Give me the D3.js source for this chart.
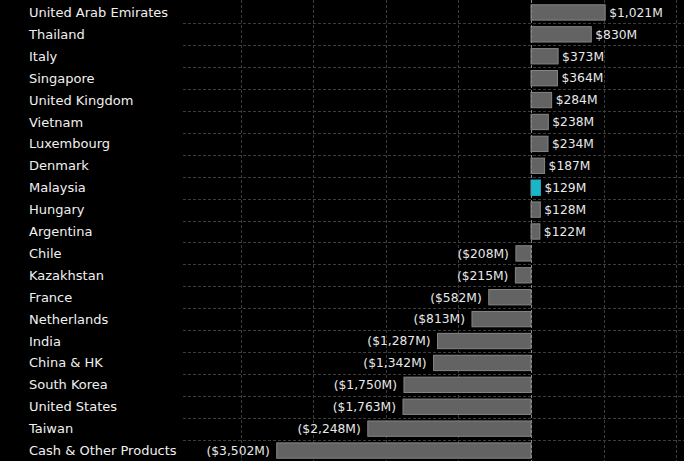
<!DOCTYPE html>
<html><head><meta charset="utf-8">
<script src="https://cdn.jsdelivr.net/npm/d3@7"></script>
<style>html,body{margin:0;padding:0;background:#000;}svg{display:block;}</style>
</head><body>
<svg id="c" width="684" height="461"></svg>
<script>
const categories = ["United Arab Emirates","Thailand","Italy","Singapore","United Kingdom","Vietnam","Luxembourg","Denmark","Malaysia","Hungary","Argentina","Chile","Kazakhstan","France","Netherlands","India","China & HK","South Korea","United States","Taiwan","Cash & Other Products"];
const values = [1021,830,373,364,284,238,234,187,129,128,122,-208,-215,-582,-813,-1287,-1342,-1750,-1763,-2248,-3502];
const highlighted = ["Malaysia"];
const gridTicks = [-4000,-3000,-2000,-1000,0,1000,2000];

const svg = d3.select("#c");
const x = d3.scaleLinear().domain([-4793, 2107]).range([183, 684]);
const y = d3.scaleBand().domain(categories).range([1.5, 461.5]).paddingInner(0.3).paddingOuter(0.15);
const step = y.step();

const fmt = v => { const s = "$" + d3.format(",")(Math.abs(v)) + "M"; return v < 0 ? "(" + s + ")" : s; };

// horizontal grid lines at band boundaries
const bounds = categories.slice(1).map(c => y(c) - y.paddingInner()*step/2);
svg.append("g").selectAll("line").data(bounds).join("line")
  .attr("x1", 183).attr("x2", 684).attr("y1", d => Math.round(d)+0.5).attr("y2", d => Math.round(d)+0.5)
  .attr("stroke", "#3c3c3c").attr("stroke-dasharray", "3,2");

// vertical grid lines
svg.append("g").selectAll("line").data(gridTicks.filter(d => d !== 0)).join("line")
  .attr("x1", d => Math.round(x(d))+0.5).attr("x2", d => Math.round(x(d))+0.5)
  .attr("y1", 0).attr("y2", 461)
  .attr("stroke", "#3c3c3c").attr("stroke-dasharray", "3,2");

// bars
svg.append("g").selectAll("rect").data(categories).join("rect")
  .attr("x", (d,i) => Math.min(x(0), x(values[i])))
  .attr("width", (d,i) => Math.abs(x(values[i]) - x(0)))
  .attr("y", d => y(d))
  .attr("height", y.bandwidth())
  .attr("fill", d => highlighted.includes(d) ? "#19b5c9" : "#636363")
  .attr("stroke", d => highlighted.includes(d) ? "#19b5c9" : "#868686")
  .attr("stroke-width", 1);

// zero line
svg.append("line")
  .attr("x1", Math.round(x(0))+0.5).attr("x2", Math.round(x(0))+0.5)
  .attr("y1", 0).attr("y2", 461)
  .attr("stroke", "#8a8a8a").attr("stroke-dasharray", "3,2");

// value labels
svg.append("g").selectAll("text").data(categories).join("text")
  .attr("x", (d,i) => values[i] >= 0 ? x(values[i]) + 4 : x(values[i]) - 7)
  .attr("y", d => y(d) + y.bandwidth()/2)
  .attr("dy", "0.35em")
  .attr("text-anchor", (d,i) => values[i] >= 0 ? "start" : "end")
  .attr("fill", "#e8e8e8")
  .attr("font-family", "DejaVu Sans")
  .attr("font-size", 12.3)
  .text((d,i) => fmt(values[i]));

// category labels
svg.append("g").selectAll("text").data(categories).join("text")
  .attr("x", 29)
  .attr("y", d => y(d) + y.bandwidth()/2)
  .attr("dy", "0.35em")
  .attr("fill", "#f0f0f0")
  .attr("font-family", "DejaVu Sans")
  .attr("font-size", 13)
  .text(d => d);
</script>
</body></html>
